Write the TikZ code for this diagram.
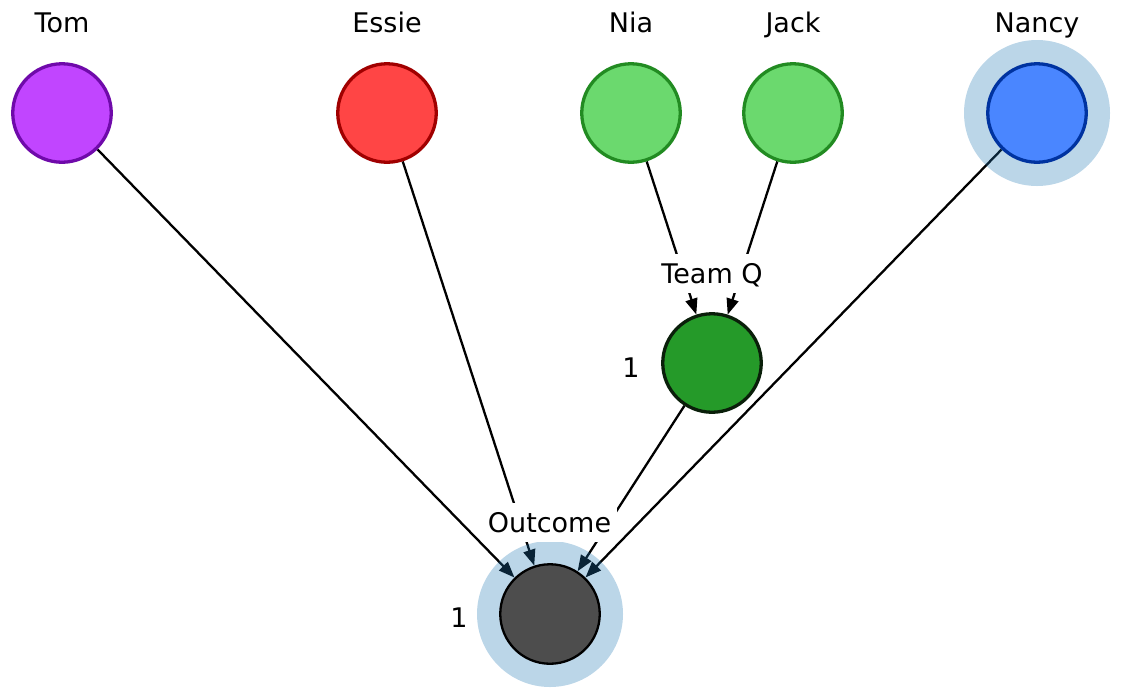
\documentclass[tikz,border=0pt]{standalone}
\usepackage{fontspec}
\setmainfont{DejaVu Sans}
\usetikzlibrary{arrows.meta}
\pgfdeclarelayer{edgelayer}
\pgfdeclarelayer{halolayer}
\pgfsetlayers{edgelayer,halolayer,main}
\definecolor{tomfill}{HTML}{C145FF}
\definecolor{tomline}{HTML}{6F0AAA}
\definecolor{essiefill}{HTML}{FF4545}
\definecolor{essieline}{HTML}{A00000}
\definecolor{greenfill}{HTML}{6BD96E}
\definecolor{greenline}{HTML}{228B22}
\definecolor{nancyfill}{HTML}{4A86FF}
\definecolor{nancyline}{HTML}{0033A0}
\definecolor{teamfill}{HTML}{259A29}
\definecolor{teamline}{HTML}{0A1F0A}
\definecolor{outfill}{HTML}{4D4D4D}
\definecolor{haloc}{HTML}{1F77B4}
\begin{document}
\begin{tikzpicture}[x=1pt,y=-1pt,
  pnode/.style={circle,minimum size=98.5pt,inner sep=0pt,line width=3.3pt},
  lbl/.style={font=\fontsize{27}{30}\selectfont,anchor=base,inner sep=0pt},
  lblbox/.style={lbl,fill=white,inner xsep=6pt,inner ysep=4pt,text height=24.6pt,text depth=6.3pt},
  edge/.style={line width=2.3pt,-{Triangle[length=16pt,width=12pt]}},
  halo/.style={fill=haloc,opacity=0.3}]
\useasboundingbox (0,0) rectangle (1121,697);
% nodes
\node[pnode,draw=tomline,fill=tomfill] (tom) at (62,113) {};
\node[pnode,draw=essieline,fill=essiefill] (essie) at (387,113) {};
\node[pnode,draw=greenline,fill=greenfill] (nia) at (631,113) {};
\node[pnode,draw=greenline,fill=greenfill] (jack) at (793,113) {};
\node[pnode,draw=nancyline,fill=nancyfill] (nancy) at (1037,113) {};
\node[pnode,draw=teamline,fill=teamfill] (teamq) at (712,363) {};
\node[pnode,draw=black,fill=outfill,line width=2.3pt,minimum size=99.5pt] (outcome) at (550,614) {};
% names
\node[lbl] (ltom) at (62,32) {Tom};
\node[lbl] (lessie) at (387,32) {Essie};
\node[lbl] (lnia) at (631,32) {Nia};
\node[lbl] (ljack) at (793,32) {Jack};
\node[lbl] (lnancy) at (1037,32) {Nancy};
\node[lblbox] (lteam) at (712,283) {Team Q};
\node[lblbox] (lout) at (549.5,532) {Outcome};
\node[lbl] (nteam) at (631,377) {1};
\node[lbl] (nout) at (459,627) {1};
% halos
\begin{pgfonlayer}{halolayer}
\fill[halo] (outcome.center) circle[radius=73];
\fill[halo] (nancy.center) circle[radius=73];
\end{pgfonlayer}
% edges
\begin{pgfonlayer}{edgelayer}
\draw[edge] (tom) -- (outcome);
\draw[edge] (essie) -- (outcome);
\draw[edge] (teamq) -- (outcome);
\draw[edge] (nancy) -- (outcome);
\draw[edge] (nia) -- (teamq);
\draw[edge] (jack) -- (teamq);
\end{pgfonlayer}
\end{tikzpicture}
\end{document}
